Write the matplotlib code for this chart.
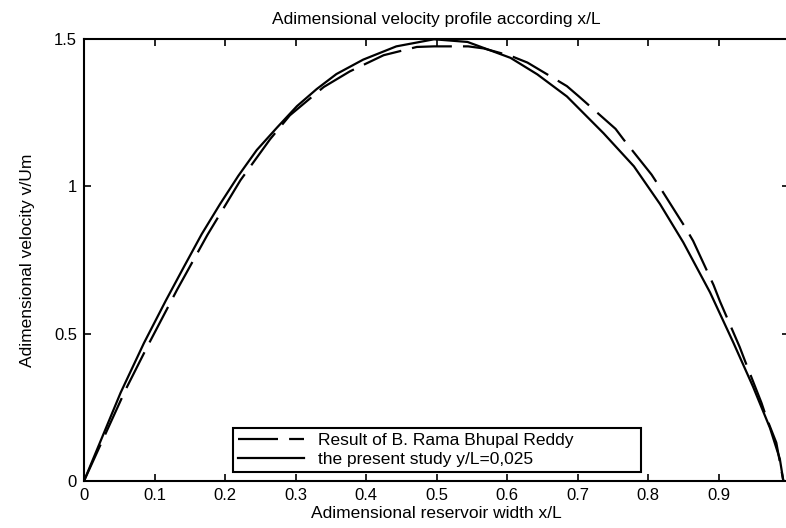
import matplotlib
matplotlib.use("Agg")
import matplotlib.pyplot as plt

plt.rcParams['font.family'] = ['Liberation Sans', 'DejaVu Sans']

# the present study y/L=0,025 (solid)
x_study = [0.0, 0.052, 0.085, 0.116, 0.142, 0.167, 0.193, 0.219, 0.245, 0.274,
           0.302, 0.330, 0.358, 0.396, 0.443, 0.4965, 0.544, 0.605, 0.643,
           0.685, 0.737, 0.780, 0.817, 0.850, 0.888, 0.921, 0.949, 0.973,
           0.987, 0.992]
v_study = [0.0, 0.300, 0.468, 0.612, 0.728, 0.838, 0.940, 1.036, 1.123, 1.200,
           1.272, 1.330, 1.381, 1.430, 1.475, 1.499, 1.490, 1.436, 1.380,
           1.305, 1.180, 1.068, 0.940, 0.810, 0.640, 0.470, 0.320, 0.180,
           0.075, 0.0]

# Result of B. Rama Bhupal Reddy (dashed)
x_reddy = [0.0, 0.059, 0.090, 0.132, 0.175, 0.222, 0.264, 0.292, 0.340, 0.377,
           0.425, 0.472, 0.4965, 0.545, 0.567, 0.605, 0.629, 0.685, 0.702,
           0.754, 0.765, 0.805, 0.820, 0.853, 0.864, 0.893, 0.902, 0.930,
           0.938, 0.961, 0.968, 0.982, 0.992]
v_reddy = [0.0, 0.310, 0.457, 0.649, 0.835, 1.021, 1.160, 1.241, 1.337, 1.390,
           1.445, 1.473, 1.475, 1.475, 1.468, 1.443, 1.420, 1.340, 1.305,
           1.195, 1.160, 1.040, 0.985, 0.860, 0.815, 0.665, 0.610, 0.455,
           0.405, 0.265, 0.215, 0.130, 0.0]

xticks = [0, 0.1, 0.2, 0.3, 0.4, 0.5, 0.6, 0.7, 0.8, 0.9]
xtick_labels = ['0', '0.1', '0.2', '0.3', '0.4', '0.5', '0.6', '0.7', '0.8', '0.9']
yticks = [0, 0.5, 1, 1.5]
ytick_labels = ['0', '0.5', '1', '1.5']

fig = plt.figure(figsize=(7.86, 5.28), dpi=100)
ax = fig.add_axes([84/786, 47/528, 705/786, 442/528])

ax.plot(x_reddy, v_reddy, color='black', lw=1.6, linestyle=(0, (18, 5)),
        label='Result of B. Rama Bhupal Reddy')
ax.plot(x_study, v_study, color='black', lw=1.6,
        label='the present study y/L=0,025')

ax.set_xlim(0, 1)
ax.set_ylim(0, 1.5)
ax.set_xticks(xticks)
ax.set_xticklabels(xtick_labels)
ax.set_yticks(yticks)
ax.set_yticklabels(ytick_labels)
ax.tick_params(direction='in', length=5, width=1.2, top=True, right=True,
               labelsize=12, pad=5)
for s in ax.spines.values():
    s.set_linewidth(1.5)

ax.set_title("Adimensional velocity profile according x/L", fontsize=12.5, pad=11)
ax.set_xlabel("Adimensional reservoir width x/L", fontsize=12.5, labelpad=2)
ax.set_ylabel("Adimensional velocity v/Um", fontsize=12.5, labelpad=14)

leg = ax.legend(loc='lower left', bbox_to_anchor=(0.211, 0.020, 0.579, 0.123),
                mode='expand', fancybox=False, framealpha=1, edgecolor='black',
                fontsize=12.5, handlelength=3.8, borderaxespad=0, labelspacing=0.2,
                borderpad=0.3)
leg.get_frame().set_linewidth(1.5)

fig.savefig('out.png', dpi=100)
